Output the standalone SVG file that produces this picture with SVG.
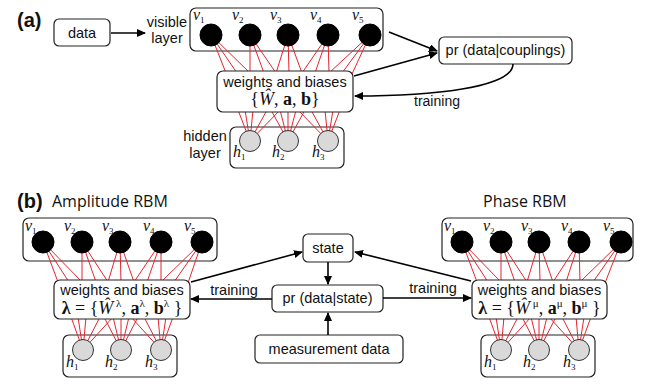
<svg xmlns="http://www.w3.org/2000/svg" width="650" height="384" viewBox="0 0 650 384">
<style>
.box{fill:#fff;stroke:#222;stroke-width:1.2}
.lbl{font-family:"Liberation Sans",Arial,sans-serif;font-size:14.5px;fill:#111}
.mid{text-anchor:middle}
.pan{font-family:"Liberation Sans",Arial,sans-serif;font-size:20px;font-weight:bold;fill:#111}
.ttl{font-family:"Open Sans",sans-serif;font-size:16px;fill:#111}
.var{font-family:"Liberation Serif","Times New Roman",serif;font-style:italic;font-size:16px;fill:#111}
.sub{font-size:9px;font-style:normal}
.math{font-family:"Liberation Serif","Times New Roman",serif;font-size:18px;fill:#111;text-anchor:middle}
.b{font-weight:bold}
.i{font-style:italic}
.sup{font-size:11px}
.vis{fill:#000;stroke:#000;stroke-width:1}
.hid{fill:#d9d9d9;stroke:#333;stroke-width:1}
.w line{stroke:#e8232e;stroke-width:1}
.arr{stroke:#000;stroke-width:1.6;fill:none;marker-end:url(#ah)}
</style>
<defs>
<marker id="ah" markerUnits="userSpaceOnUse" markerWidth="9" markerHeight="8" refX="8" refY="4" orient="auto">
<path d="M0,0 L9,4 L0,8 z" fill="#000"/>
</marker>
</defs>

<text class="pan" x="17" y="27">(a)</text>
<text class="pan" x="17" y="208">(b)</text>
<text class="ttl" x="52" y="207">Amplitude RBM</text>
<text class="ttl" x="483" y="207">Phase RBM</text>

<g id="data">
<rect class="box" x="54" y="19" width="56" height="27" rx="5"/>
<text class="lbl mid" x="82" y="38">data</text>
</g>
<g id="visible-label">
<text class="lbl mid" x="167" y="27">visible</text>
<text class="lbl mid" x="167" y="43">layer</text>
</g>
<g id="hidden-label">
<text class="lbl mid" x="205" y="141">hidden</text>
<text class="lbl mid" x="205" y="158">layer</text>
</g>

<!-- Panel a RBM -->
<g id="rbm-a">
<rect class="box" x="190" y="8" width="193" height="43" rx="6"/>
<rect class="box" x="230" y="127" width="114" height="41" rx="6"/>
<g class="w">
<line x1="211" y1="35" x2="226" y2="73"/><line x1="211" y1="35" x2="237" y2="73"/><line x1="211" y1="35" x2="250" y2="73"/>
<line x1="250" y1="35" x2="250" y2="73"/><line x1="250" y1="35" x2="264" y2="73"/><line x1="250" y1="35" x2="276" y2="73"/>
<line x1="288" y1="35" x2="276" y2="73"/><line x1="288" y1="35" x2="289" y2="73"/><line x1="288" y1="35" x2="302" y2="73"/>
<line x1="328" y1="35" x2="302" y2="73"/><line x1="328" y1="35" x2="315" y2="73"/><line x1="328" y1="35" x2="329" y2="73"/>
<line x1="370" y1="35" x2="329" y2="73"/><line x1="370" y1="35" x2="342" y2="73"/><line x1="370" y1="35" x2="352" y2="74"/>
<line x1="250" y1="141" x2="238" y2="110"/><line x1="250" y1="141" x2="245" y2="110"/><line x1="250" y1="141" x2="253" y2="110"/><line x1="250" y1="141" x2="267" y2="110"/><line x1="250" y1="141" x2="280" y2="110"/>
<line x1="288" y1="141" x2="271" y2="110"/><line x1="288" y1="141" x2="280" y2="110"/><line x1="288" y1="141" x2="288" y2="110"/><line x1="288" y1="141" x2="296" y2="110"/><line x1="288" y1="141" x2="305" y2="110"/>
<line x1="328" y1="141" x2="298" y2="110"/><line x1="328" y1="141" x2="311" y2="110"/><line x1="328" y1="141" x2="325" y2="110"/><line x1="328" y1="141" x2="333" y2="110"/><line x1="328" y1="141" x2="340" y2="110"/>
</g>
<g id="weights-a">
<rect class="box" x="217" y="71" width="136" height="41" rx="6"/>
<text class="lbl mid" x="285" y="87">weights and biases</text>
<text class="math" x="285" y="105">{<tspan class="i">Ŵ</tspan>, <tspan class="b">a</tspan>, <tspan class="b">b</tspan>}</text>
</g>
<circle class="vis" cx="211" cy="35" r="11"/><circle class="vis" cx="250" cy="35" r="11"/><circle class="vis" cx="288" cy="35" r="11"/><circle class="vis" cx="328" cy="35" r="11"/><circle class="vis" cx="370" cy="35" r="11"/>
<text class="var" x="193" y="20">v<tspan class="sub" dy="3">1</tspan></text>
<text class="var" x="232" y="20">v<tspan class="sub" dy="3">2</tspan></text>
<text class="var" x="270" y="20">v<tspan class="sub" dy="3">3</tspan></text>
<text class="var" x="310" y="20">v<tspan class="sub" dy="3">4</tspan></text>
<text class="var" x="352" y="20">v<tspan class="sub" dy="3">5</tspan></text>
<circle class="hid" cx="250" cy="141" r="10.5"/><circle class="hid" cx="288" cy="141" r="10.5"/><circle class="hid" cx="328" cy="141" r="10.5"/>
<text class="var" x="233" y="157">h<tspan class="sub" dy="3">1</tspan></text>
<text class="var" x="272" y="157">h<tspan class="sub" dy="3">2</tspan></text>
<text class="var" x="312" y="157">h<tspan class="sub" dy="3">3</tspan></text>
</g>

<g id="pr-couplings">
<rect class="box" x="439" y="37" width="133" height="27" rx="5"/>
<text class="lbl mid" x="505.5" y="55">pr (data|couplings)</text>
</g>

<!-- Panel b left RBM -->
<g id="rbm-amp">
<rect class="box" x="23" y="218" width="194" height="43" rx="6"/>
<rect class="box" x="63" y="335" width="114" height="42" rx="6"/>
<g class="w">
<line x1="43" y1="242" x2="58" y2="282"/><line x1="43" y1="242" x2="69" y2="282"/><line x1="43" y1="242" x2="82" y2="282"/>
<line x1="82" y1="242" x2="82" y2="282"/><line x1="82" y1="242" x2="96" y2="282"/><line x1="82" y1="242" x2="108" y2="282"/>
<line x1="120" y1="242" x2="108" y2="282"/><line x1="120" y1="242" x2="121" y2="282"/><line x1="120" y1="242" x2="134" y2="282"/>
<line x1="161" y1="242" x2="134" y2="282"/><line x1="161" y1="242" x2="147" y2="282"/><line x1="161" y1="242" x2="161" y2="282"/>
<line x1="202" y1="242" x2="161" y2="282"/><line x1="202" y1="242" x2="174" y2="282"/><line x1="202" y1="242" x2="188" y2="283"/>
<line x1="83" y1="350" x2="71" y2="317"/><line x1="83" y1="350" x2="78" y2="317"/><line x1="83" y1="350" x2="86" y2="317"/><line x1="83" y1="350" x2="100" y2="317"/><line x1="83" y1="350" x2="113" y2="317"/>
<line x1="121" y1="350" x2="104" y2="317"/><line x1="121" y1="350" x2="113" y2="317"/><line x1="121" y1="350" x2="121" y2="317"/><line x1="121" y1="350" x2="129" y2="317"/><line x1="121" y1="350" x2="138" y2="317"/>
<line x1="161" y1="350" x2="131" y2="317"/><line x1="161" y1="350" x2="144" y2="317"/><line x1="161" y1="350" x2="158" y2="317"/><line x1="161" y1="350" x2="166" y2="317"/><line x1="161" y1="350" x2="173" y2="317"/>
</g>
<g id="weights-amp">
<rect class="box" x="54" y="280" width="136" height="39" rx="6"/>
<text class="lbl mid" x="122" y="295">weights and biases</text>
<text class="math" x="122" y="314"><tspan class="b">λ</tspan> = {<tspan class="i">Ŵ</tspan><tspan class="sup" dy="-7"> λ</tspan><tspan dy="7">, </tspan><tspan class="b">a</tspan><tspan class="sup" dy="-7">λ</tspan><tspan dy="7">, </tspan><tspan class="b">b</tspan><tspan class="sup" dy="-7">λ</tspan><tspan dy="7"> }</tspan></text>
</g>
<circle class="vis" cx="43" cy="242" r="11"/><circle class="vis" cx="82" cy="242" r="11"/><circle class="vis" cx="120" cy="242" r="11"/><circle class="vis" cx="161" cy="242" r="11"/><circle class="vis" cx="202" cy="242" r="11"/>
<text class="var" x="25" y="231">v<tspan class="sub" dy="3">1</tspan></text>
<text class="var" x="64" y="231">v<tspan class="sub" dy="3">2</tspan></text>
<text class="var" x="102" y="231">v<tspan class="sub" dy="3">3</tspan></text>
<text class="var" x="143" y="231">v<tspan class="sub" dy="3">4</tspan></text>
<text class="var" x="184" y="231">v<tspan class="sub" dy="3">5</tspan></text>
<circle class="hid" cx="83" cy="350" r="10.5"/><circle class="hid" cx="121" cy="350" r="10.5"/><circle class="hid" cx="161" cy="350" r="10.5"/>
<text class="var" x="66" y="367">h<tspan class="sub" dy="3">1</tspan></text>
<text class="var" x="105" y="367">h<tspan class="sub" dy="3">2</tspan></text>
<text class="var" x="145" y="367">h<tspan class="sub" dy="3">3</tspan></text>
</g>

<!-- Panel b right RBM -->
<g id="rbm-phase">
<rect class="box" x="442" y="218" width="191" height="43" rx="6"/>
<rect class="box" x="481" y="335" width="114" height="42" rx="6"/>
<g class="w">
<line x1="462" y1="242" x2="477" y2="282"/><line x1="462" y1="242" x2="488" y2="282"/><line x1="462" y1="242" x2="501" y2="282"/>
<line x1="501" y1="242" x2="501" y2="282"/><line x1="501" y1="242" x2="515" y2="282"/><line x1="501" y1="242" x2="527" y2="282"/>
<line x1="539" y1="242" x2="527" y2="282"/><line x1="539" y1="242" x2="540" y2="282"/><line x1="539" y1="242" x2="553" y2="282"/>
<line x1="579" y1="242" x2="553" y2="282"/><line x1="579" y1="242" x2="566" y2="282"/><line x1="579" y1="242" x2="580" y2="282"/>
<line x1="621" y1="242" x2="580" y2="282"/><line x1="621" y1="242" x2="593" y2="282"/><line x1="621" y1="242" x2="605" y2="283"/>
<line x1="501" y1="350" x2="489" y2="317"/><line x1="501" y1="350" x2="496" y2="317"/><line x1="501" y1="350" x2="504" y2="317"/><line x1="501" y1="350" x2="518" y2="317"/><line x1="501" y1="350" x2="531" y2="317"/>
<line x1="539" y1="350" x2="522" y2="317"/><line x1="539" y1="350" x2="531" y2="317"/><line x1="539" y1="350" x2="539" y2="317"/><line x1="539" y1="350" x2="547" y2="317"/><line x1="539" y1="350" x2="556" y2="317"/>
<line x1="579" y1="350" x2="549" y2="317"/><line x1="579" y1="350" x2="562" y2="317"/><line x1="579" y1="350" x2="576" y2="317"/><line x1="579" y1="350" x2="584" y2="317"/><line x1="579" y1="350" x2="591" y2="317"/>
</g>
<g id="weights-phase">
<rect class="box" x="472" y="280" width="135" height="39" rx="6"/>
<text class="lbl mid" x="539.5" y="295">weights and biases</text>
<text class="math" x="539.5" y="314"><tspan class="b">λ</tspan> = {<tspan class="i">Ŵ</tspan><tspan class="sup" dy="-7"> μ</tspan><tspan dy="7">, </tspan><tspan class="b">a</tspan><tspan class="sup" dy="-7">μ</tspan><tspan dy="7">, </tspan><tspan class="b">b</tspan><tspan class="sup" dy="-7">μ</tspan><tspan dy="7"> }</tspan></text>
</g>
<circle class="vis" cx="462" cy="242" r="11"/><circle class="vis" cx="501" cy="242" r="11"/><circle class="vis" cx="539" cy="242" r="11"/><circle class="vis" cx="579" cy="242" r="11"/><circle class="vis" cx="621" cy="242" r="11"/>
<text class="var" x="444" y="231">v<tspan class="sub" dy="3">1</tspan></text>
<text class="var" x="483" y="231">v<tspan class="sub" dy="3">2</tspan></text>
<text class="var" x="521" y="231">v<tspan class="sub" dy="3">3</tspan></text>
<text class="var" x="561" y="231">v<tspan class="sub" dy="3">4</tspan></text>
<text class="var" x="603" y="231">v<tspan class="sub" dy="3">5</tspan></text>
<circle class="hid" cx="501" cy="350" r="10.5"/><circle class="hid" cx="539" cy="350" r="10.5"/><circle class="hid" cx="579" cy="350" r="10.5"/>
<text class="var" x="484" y="367">h<tspan class="sub" dy="3">1</tspan></text>
<text class="var" x="523" y="367">h<tspan class="sub" dy="3">2</tspan></text>
<text class="var" x="563" y="367">h<tspan class="sub" dy="3">3</tspan></text>
</g>

<g id="state">
<rect class="box" x="303" y="234" width="50" height="28" rx="5"/>
<text class="lbl mid" x="328" y="253">state</text>
</g>
<g id="pr-state">
<rect class="box" x="272" y="285" width="111" height="27" rx="5"/>
<text class="lbl mid" x="327.5" y="303">pr (data|state)</text>
</g>
<g id="measurement">
<rect class="box" x="255" y="335" width="148" height="28" rx="5"/>
<text class="lbl mid" x="329" y="354">measurement data</text>
</g>

<g id="connectors">
<line class="arr" x1="111" y1="33" x2="145" y2="33"/>
<line class="arr" x1="389" y1="32" x2="437" y2="51"/>
<line class="arr" x1="354" y1="76" x2="437" y2="53"/>
<path class="arr" d="M513,64 C513,88 430,96 355,96"/>
<text class="lbl mid" x="437" y="106" style="font-size:14px">training</text>
<line class="arr" x1="191" y1="282" x2="302" y2="252"/>
<line class="arr" x1="471" y1="281" x2="355" y2="252"/>
<line class="arr" x1="328" y1="262" x2="328" y2="284"/>
<line class="arr" x1="328" y1="335" x2="328" y2="313"/>
<line class="arr" x1="272" y1="299" x2="191" y2="299"/>
<line class="arr" x1="383" y1="298" x2="471" y2="298"/>
<text class="lbl mid" x="234" y="295">training</text>
<text class="lbl mid" x="433" y="293">training</text>
</g>
</svg>
